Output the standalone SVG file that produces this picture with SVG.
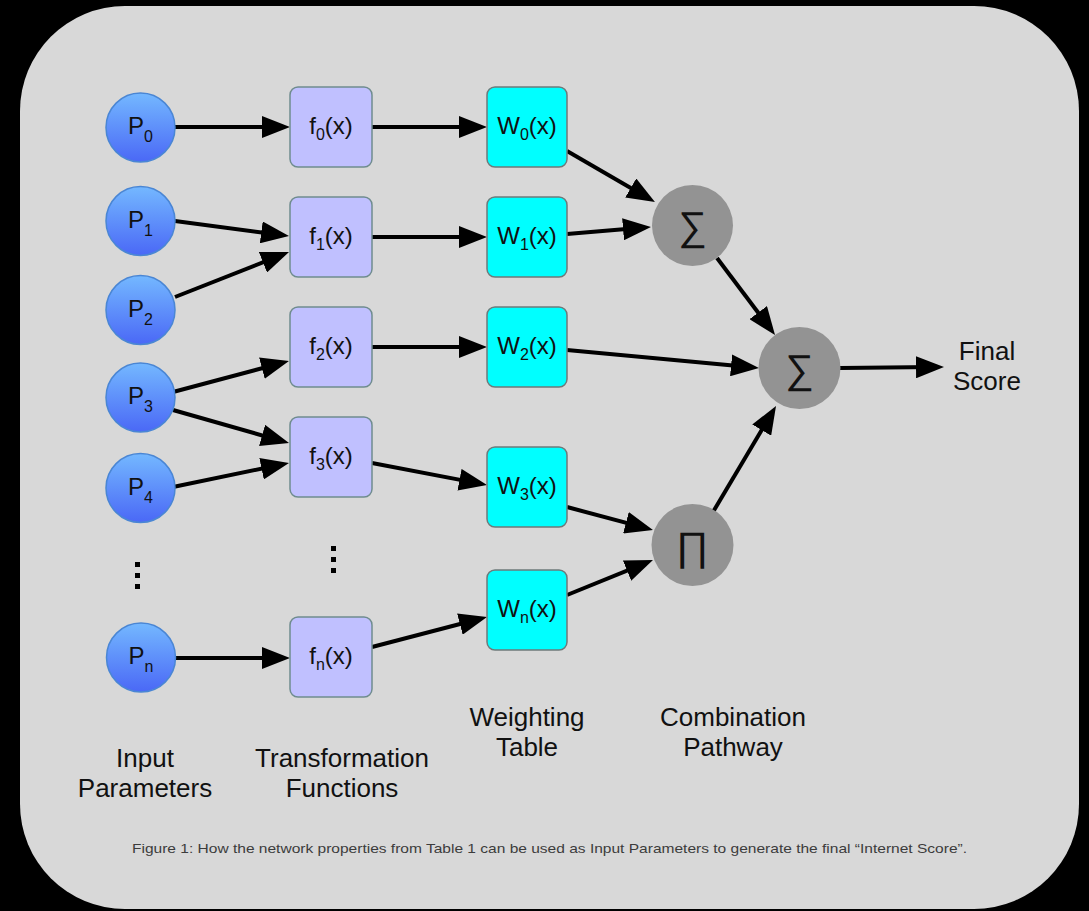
<svg xmlns="http://www.w3.org/2000/svg" width="1089" height="911" viewBox="0 0 1089 911">
<style>
.lbl{font-family:"Liberation Sans",Arial,sans-serif;fill:#111;}
.node{font-size:24px;}
.sub{font-size:16px;}
.col{font-size:26px;text-anchor:middle;}
.cap{font-family:"Liberation Sans",Arial,sans-serif;font-size:13px;fill:#3c3c3c;}
.pc{fill:url(#pg);stroke:#4a86d4;stroke-width:1.5;}
.fb{fill:#c0c0ff;stroke:#6f8c8f;stroke-width:1.5;}
.wb{fill:#00ffff;stroke:#6e7a7a;stroke-width:1.5;}
.op{fill:#939393;}
.sym{font-family:"Liberation Sans","DejaVu Sans",sans-serif;font-size:40px;fill:#111;text-anchor:middle;}
#connectors line{stroke:#000;stroke-width:4;marker-end:url(#ah);}
</style>
<defs>
<linearGradient id="pg" x1="0" y1="0" x2="0" y2="1">
<stop offset="0" stop-color="#74b8ff"/>
<stop offset="1" stop-color="#4a68f6"/>
</linearGradient>
<marker id="ah" markerUnits="userSpaceOnUse" markerWidth="28" markerHeight="22" refX="18" refY="11" orient="auto">
<path d="M0,0 L28,11 L0,22 z" fill="#000"/>
</marker>
</defs>
<rect x="0" y="0" width="1089" height="911" fill="#000"/>
<rect x="20" y="6" width="1059" height="903" rx="105" ry="105" fill="#d8d8d8"/>

<g id="connectors">
<line x1="175" y1="127" x2="280" y2="127"/>
<line x1="372" y1="127" x2="477" y2="127"/>
<line x1="567" y1="151" x2="646.3" y2="197"/>
<line x1="567" y1="234" x2="641" y2="227.8"/>
<line x1="175" y1="221" x2="279.1" y2="234.7"/>
<line x1="175" y1="297" x2="279.7" y2="255.7"/>
<line x1="372" y1="237" x2="477" y2="237"/>
<line x1="173" y1="392" x2="279.3" y2="363.6"/>
<line x1="173" y1="410" x2="279.4" y2="440.3"/>
<line x1="173" y1="487" x2="279.2" y2="465"/>
<line x1="372" y1="347" x2="477" y2="347"/>
<line x1="372" y1="463" x2="477.2" y2="483.1"/>
<line x1="567" y1="350" x2="749" y2="367.1"/>
<line x1="567" y1="507" x2="643.3" y2="527.4"/>
<line x1="567" y1="595" x2="643.7" y2="563.8"/>
<line x1="372" y1="647" x2="477.3" y2="619.5"/>
<line x1="175" y1="658" x2="280" y2="658"/>
<line x1="717" y1="258" x2="769" y2="327"/>
<line x1="713" y1="512" x2="770.9" y2="414.6"/>
<line x1="840" y1="368" x2="934" y2="367.1"/>
</g>

<g id="P0"><circle class="pc" cx="140.5" cy="127.5" r="34.5"/><text class="lbl node" x="140.5" y="134" text-anchor="middle">P<tspan class="sub" dy="8">0</tspan></text></g>
<g id="P1"><circle class="pc" cx="140.5" cy="221" r="34.5"/><text class="lbl node" x="140.5" y="227.5" text-anchor="middle">P<tspan class="sub" dy="8">1</tspan></text></g>
<g id="P2"><circle class="pc" cx="140.5" cy="310" r="34.5"/><text class="lbl node" x="140.5" y="316.5" text-anchor="middle">P<tspan class="sub" dy="8">2</tspan></text></g>
<g id="P3"><circle class="pc" cx="140.5" cy="397.5" r="34.5"/><text class="lbl node" x="140.5" y="404" text-anchor="middle">P<tspan class="sub" dy="8">3</tspan></text></g>
<g id="P4"><circle class="pc" cx="140.5" cy="488" r="34.5"/><text class="lbl node" x="140.5" y="494.5" text-anchor="middle">P<tspan class="sub" dy="8">4</tspan></text></g>
<g id="Pn"><circle class="pc" cx="141" cy="657.5" r="34.5"/><text class="lbl node" x="141" y="664" text-anchor="middle">P<tspan class="sub" dy="8">n</tspan></text></g>
<g id="Pdots"><rect x="135" y="562" width="5" height="5" fill="#000"/><rect x="135" y="573" width="5" height="5" fill="#000"/><rect x="135" y="584" width="5" height="5" fill="#000"/></g>

<g id="f0"><rect class="fb" x="290" y="87" width="82" height="80" rx="8"/><text class="lbl node" x="331" y="134" text-anchor="middle">f<tspan class="sub" dy="6">0</tspan><tspan dy="-6">(x)</tspan></text></g>
<g id="f1"><rect class="fb" x="290" y="197" width="82" height="80" rx="8"/><text class="lbl node" x="331" y="244" text-anchor="middle">f<tspan class="sub" dy="6">1</tspan><tspan dy="-6">(x)</tspan></text></g>
<g id="f2"><rect class="fb" x="290" y="307" width="82" height="80" rx="8"/><text class="lbl node" x="331" y="354" text-anchor="middle">f<tspan class="sub" dy="6">2</tspan><tspan dy="-6">(x)</tspan></text></g>
<g id="f3"><rect class="fb" x="290" y="417" width="82" height="80" rx="8"/><text class="lbl node" x="331" y="464" text-anchor="middle">f<tspan class="sub" dy="6">3</tspan><tspan dy="-6">(x)</tspan></text></g>
<g id="fn"><rect class="fb" x="290" y="617" width="82" height="80" rx="8"/><text class="lbl node" x="331" y="664" text-anchor="middle">f<tspan class="sub" dy="6">n</tspan><tspan dy="-6">(x)</tspan></text></g>
<g id="fdots"><rect x="331" y="546" width="5" height="5" fill="#000"/><rect x="331" y="557" width="5" height="5" fill="#000"/><rect x="331" y="568" width="5" height="5" fill="#000"/></g>

<g id="W0"><rect class="wb" x="487" y="87" width="80" height="80" rx="8"/><text class="lbl node" x="527" y="134" text-anchor="middle">W<tspan class="sub" dy="6">0</tspan><tspan dy="-6">(x)</tspan></text></g>
<g id="W1"><rect class="wb" x="487" y="197" width="80" height="80" rx="8"/><text class="lbl node" x="527" y="244" text-anchor="middle">W<tspan class="sub" dy="6">1</tspan><tspan dy="-6">(x)</tspan></text></g>
<g id="W2"><rect class="wb" x="487" y="307" width="80" height="80" rx="8"/><text class="lbl node" x="527" y="354" text-anchor="middle">W<tspan class="sub" dy="6">2</tspan><tspan dy="-6">(x)</tspan></text></g>
<g id="W3"><rect class="wb" x="487" y="447" width="80" height="80" rx="8"/><text class="lbl node" x="527" y="494" text-anchor="middle">W<tspan class="sub" dy="6">3</tspan><tspan dy="-6">(x)</tspan></text></g>
<g id="Wn"><rect class="wb" x="487" y="570" width="80" height="80" rx="8"/><text class="lbl node" x="527" y="617" text-anchor="middle">W<tspan class="sub" dy="6">n</tspan><tspan dy="-6">(x)</tspan></text></g>

<g id="sum1"><circle class="op" cx="692.5" cy="225.5" r="40.5"/><text class="sym" x="692.5" y="240">∑</text></g>
<g id="sum2"><circle class="op" cx="799.5" cy="368" r="41"/><text class="sym" x="799.5" y="383">∑</text></g>
<g id="prod"><circle class="op" cx="692.5" cy="545" r="41"/><text class="sym" x="692.5" y="560">∏</text></g>

<g id="final"><text class="lbl col" x="987" y="360">Final</text><text class="lbl col" x="987" y="390">Score</text></g>
<g id="labels">
<text class="lbl col" x="145" y="767">Input</text><text class="lbl col" x="145" y="797">Parameters</text>
<text class="lbl col" x="342" y="767">Transformation</text><text class="lbl col" x="342" y="797">Functions</text>
<text class="lbl col" x="527" y="726">Weighting</text><text class="lbl col" x="527" y="756">Table</text>
<text class="lbl col" x="733" y="726">Combination</text><text class="lbl col" x="733" y="756">Pathway</text>
</g>
<text class="cap" x="549.5" y="853" text-anchor="middle" textLength="835" lengthAdjust="spacingAndGlyphs">Figure 1: How the network properties from Table 1 can be used as Input Parameters to generate the final “Internet Score”.</text>
</svg>
